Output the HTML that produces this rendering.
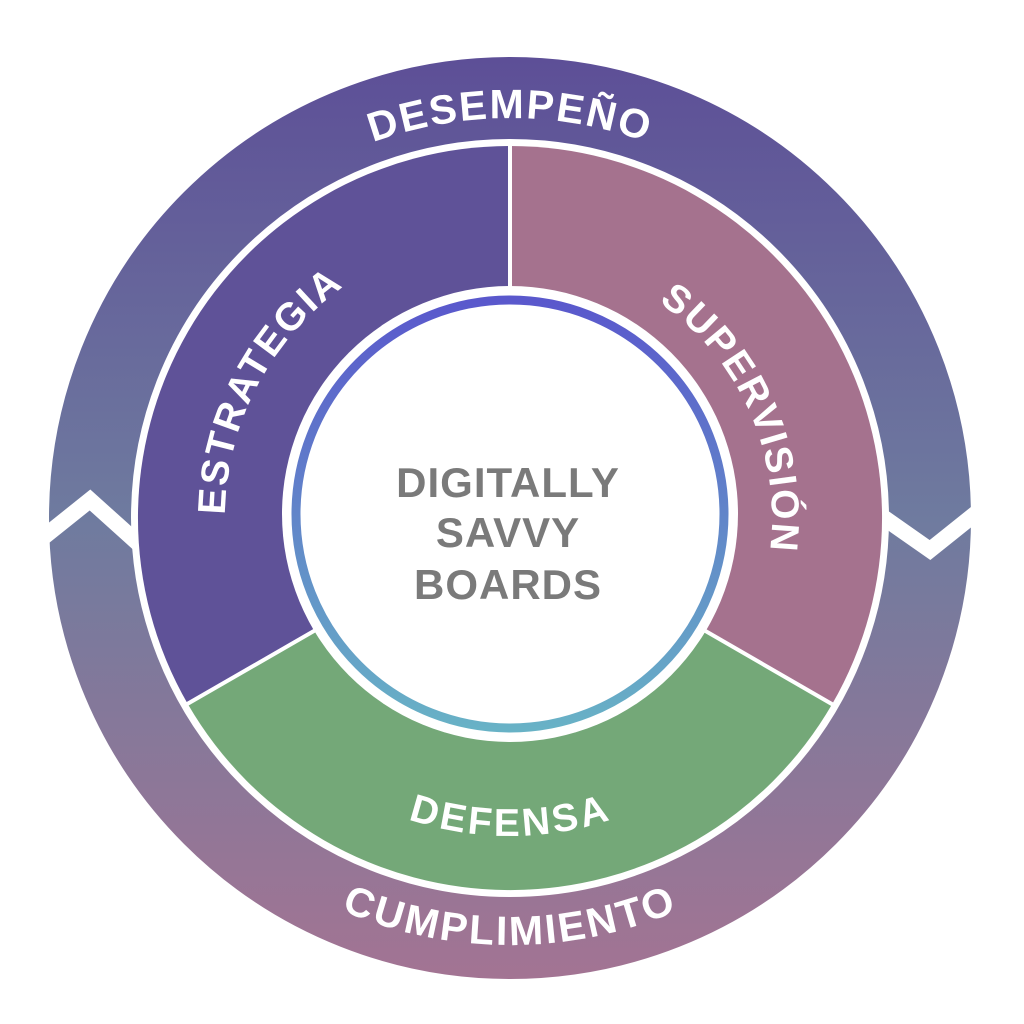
<!DOCTYPE html>
<html><head><meta charset="utf-8"><style>html,body{margin:0;padding:0;background:#fff}svg{display:block}</style></head><body>
<svg width="1024" height="1024" viewBox="0 0 1024 1024" xmlns="http://www.w3.org/2000/svg">
<defs>
<linearGradient id="og" gradientUnits="userSpaceOnUse" x1="0" y1="60" x2="0" y2="980">
<stop offset="0" stop-color="#5d4f97"/><stop offset="0.5" stop-color="#6f7b9f"/><stop offset="1" stop-color="#a37493"/>
</linearGradient>
<linearGradient id="ig" gradientUnits="userSpaceOnUse" x1="0" y1="300" x2="0" y2="730">
<stop offset="0" stop-color="#5a58cc"/><stop offset="1" stop-color="#68b2c6"/>
</linearGradient>
<path id="p1" d="M110,518 A400,400 0 0 1 910,518"/>
<path id="p2" d="M93,518 A417,417 0 0 0 927,518"/>
<path id="p3" d="M263.2,660.5 A285,285 0 0 1 510,233"/>
<path id="p4" d="M510,256 A262,262 0 0 1 736.9,649"/>
<path id="p5" d="M245.9,670.5 A305,305 0 0 0 774.1,670.5"/>
</defs>
<circle cx="510" cy="518" r="420" fill="none" stroke="url(#og)" stroke-width="82"/>
<polyline points="40,540 90,500 140,545" fill="none" stroke="#fff" stroke-width="16"/>
<polyline points="880,515 930,550 980,510" fill="none" stroke="#fff" stroke-width="16"/>
<path d="M510,518 L187.8,704 A372,372 0 0 1 510,146 Z" fill="#5f5298"/>
<path d="M510,518 L510,146 A372,372 0 0 1 832.2,704 Z" fill="#a5728e"/>
<path d="M510,518 L832.2,704 A372,372 0 0 1 187.8,704 Z" fill="#74a878"/>
<g stroke="#fff" stroke-width="4"><line x1="510" y1="518" x2="510" y2="140"/><line x1="510" y1="518" x2="182" y2="707"/><line x1="510" y1="518" x2="837" y2="707"/></g>
<circle cx="510" cy="514" r="228" fill="#fff"/>
<circle cx="510" cy="514" r="214" fill="#fff" stroke="url(#ig)" stroke-width="9"/>
<g font-family="Liberation Sans, sans-serif" font-weight="bold" fill="#fff" font-size="41" letter-spacing="2">
<text text-anchor="middle"><textPath href="#p1" startOffset="50%">DESEMPEÑO</textPath></text>
<text text-anchor="middle" dy="10"><textPath href="#p2" startOffset="50%">CUMPLIMIENTO</textPath></text>
<text text-anchor="middle" font-size="39"><textPath href="#p3" startOffset="48%">ESTRATEGIA</textPath></text>
<text text-anchor="middle" font-size="39"><textPath href="#p4" startOffset="55%">SUPERVISIÓN</textPath></text>
<text text-anchor="middle" dy="13" font-size="39"><textPath href="#p5" startOffset="50%">DEFENSA</textPath></text>
</g>
<g font-family="Liberation Sans, sans-serif" font-weight="bold" fill="#7a7a7a" font-size="42" text-anchor="middle" letter-spacing="1">
<text x="508" y="497">DIGITALLY</text>
<text x="508" y="547">SAVVY</text>
<text x="508" y="599">BOARDS</text>
</g>
</svg>
</body></html>
